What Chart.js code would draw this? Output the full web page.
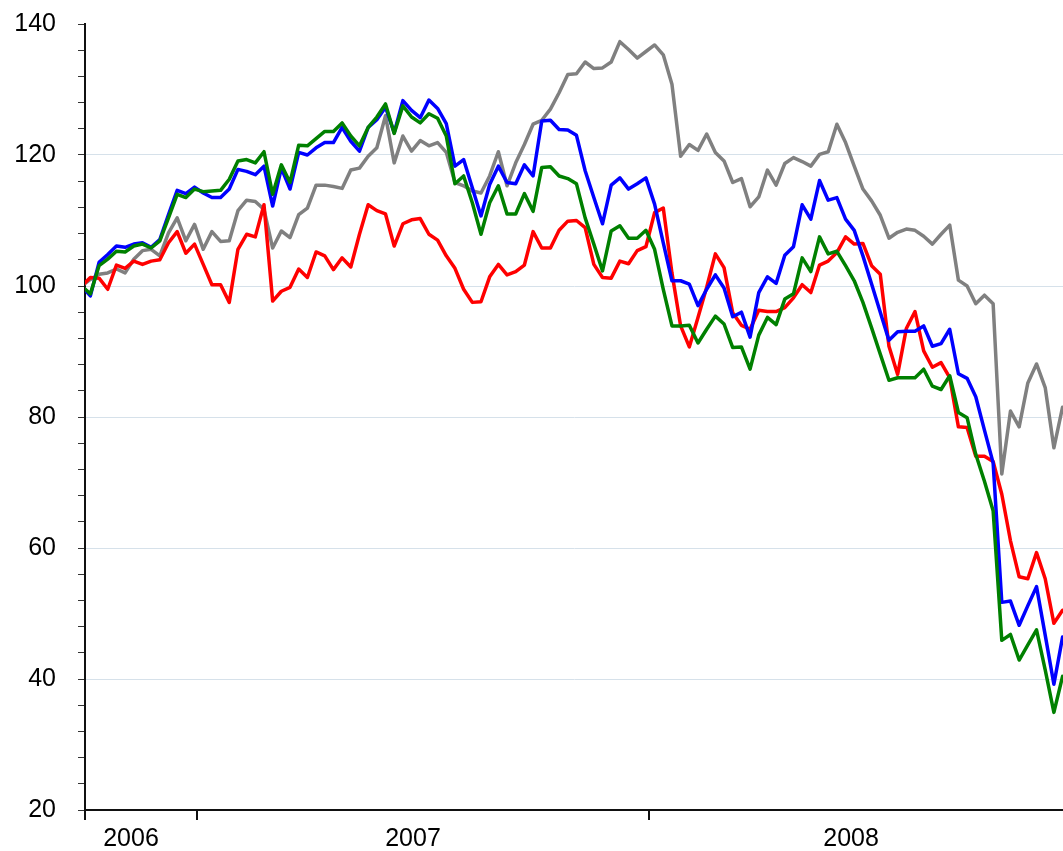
<!DOCTYPE html>
<html>
<head>
<meta charset="utf-8">
<script src="https://cdn.jsdelivr.net/npm/chart.js@4.4.1/dist/chart.umd.min.js"></script>
<style>
  html, body { margin: 0; padding: 0; background: #fff; }
  #wrap { width: 1063px; height: 851px; }
</style>
</head>
<body>
<div id="wrap"><canvas id="lineChart"></canvas></div>
<script>
// weekly values, every series indexed to 100 at the first week
const redValues = [
  100.0, 101.3, 101.2, 99.5, 103.2, 102.7, 103.8, 103.3, 103.8, 104.0,
  106.6, 108.3, 105.0, 106.4, 103.3, 100.2, 100.2, 97.5, 105.6, 107.9,
  107.5, 112.4, 97.7, 99.2, 99.8, 102.6, 101.3, 105.2, 104.6, 102.5,
  104.3, 102.9, 107.9, 112.4, 111.5, 111.0, 106.1, 109.5, 110.1, 110.3,
  107.9, 107.0, 104.6, 102.7, 99.5, 97.5, 97.6, 101.4, 103.3, 101.7,
  102.2, 103.2, 108.3, 105.8, 105.8, 108.5, 109.9, 110.0, 108.9, 103.3,
  101.3, 101.2, 103.8, 103.4, 105.4, 106.0, 111.2, 111.9, 102.0, 93.9,
  90.7, 95.2, 99.8, 104.9, 102.8, 95.9, 94.0, 93.4, 96.3, 96.1,
  96.1, 96.7, 98.2, 100.2, 99.0, 103.2, 103.8, 105.1, 107.5, 106.4,
  106.5, 103.1, 101.8, 90.8, 86.5, 93.5, 96.1, 90.1, 87.6, 88.3,
  86.0, 78.5, 78.4, 74.0, 74.0, 73.2, 68.2, 61.1, 55.6, 55.3,
  59.3, 55.3, 48.5, 50.5
];
const blueValues = [
  100.0, 98.5, 103.6, 104.8, 106.1, 105.9, 106.4, 106.6, 105.9, 107.1,
  110.9, 114.6, 114.1, 115.1, 114.2, 113.5, 113.5, 114.8, 117.8, 117.5,
  117.0, 118.3, 112.2, 118.0, 114.8, 120.4, 120.0, 121.1, 121.9, 121.9,
  124.2, 122.1, 120.6, 124.2, 125.4, 127.3, 123.4, 128.3, 126.8, 125.7,
  128.4, 127.1, 124.8, 118.3, 119.3, 115.0, 110.7, 115.5, 118.3, 115.8,
  115.6, 118.5, 116.8, 125.2, 125.3, 123.9, 123.8, 123.0, 117.6, 113.5,
  109.5, 115.4, 116.5, 114.8, 115.6, 116.5, 112.5, 106.6, 100.8, 100.8,
  100.3, 97.0, 99.5, 101.7, 99.7, 95.3, 96.0, 92.2, 99.0, 101.4,
  100.4, 104.7, 106.0, 112.4, 110.2, 116.1, 113.1, 113.5, 110.2, 108.5,
  104.6, 100.3, 96.0, 91.7, 93.0, 93.1, 93.1, 93.9, 90.8, 91.2,
  93.4, 86.6, 85.9, 83.1, 78.0, 73.0, 51.7, 51.9, 48.2, 51.2,
  54.1, 46.7, 39.2, 46.4
];
const greenValues = [
  100.0, 98.8, 103.1, 104.1, 105.3, 105.2, 106.1, 106.4, 105.8, 106.9,
  110.4, 114.0, 113.5, 114.8, 114.4, 114.5, 114.6, 116.3, 119.1, 119.3,
  118.8, 120.5, 114.0, 118.5, 115.8, 121.5, 121.4, 122.5, 123.6, 123.6,
  124.9, 122.9, 121.4, 124.2, 125.8, 127.8, 123.3, 127.5, 125.8, 124.9,
  126.3, 125.6, 122.9, 115.6, 116.8, 112.7, 107.9, 112.7, 115.3, 111.0,
  111.0, 114.1, 111.4, 118.1, 118.2, 116.8, 116.4, 115.6, 110.4, 106.4,
  102.3, 108.4, 109.2, 107.3, 107.3, 108.5, 105.6, 99.5, 93.9, 93.9,
  94.0, 91.3, 93.4, 95.4, 94.2, 90.6, 90.7, 87.3, 92.5, 95.2,
  94.1, 98.0, 98.8, 104.3, 102.2, 107.5, 104.9, 105.3, 103.1, 100.8,
  97.5, 93.6, 89.6, 85.6, 86.0, 86.0, 86.0, 87.3, 84.7, 84.2,
  86.3, 80.7, 79.9, 74.3, 70.2, 65.7, 45.9, 46.8, 42.9, 45.2,
  47.5, 41.4, 34.9, 40.4
];
const grayValues = [
  100.0, 101.0, 101.8, 102.0, 102.6, 102.0, 104.1, 105.4, 105.6, 104.6,
  108.1, 110.4, 106.9, 109.4, 105.6, 108.3, 106.8, 106.9, 111.5, 113.1,
  112.9, 111.7, 105.8, 108.4, 107.4, 110.9, 111.9, 115.4, 115.4, 115.2,
  114.9, 117.7, 118.0, 119.8, 121.1, 126.0, 118.8, 122.9, 120.6, 122.2,
  121.4, 121.9, 120.4, 115.8, 115.3, 114.5, 114.2, 116.8, 120.5, 115.3,
  118.8, 121.6, 124.7, 125.3, 127.0, 129.5, 132.3, 132.4, 134.2, 133.2,
  133.3, 134.2, 137.3, 136.1, 134.8, 135.8, 136.8, 135.3, 130.8, 119.8,
  121.6, 120.7, 123.2, 120.4, 119.1, 115.8, 116.4, 112.1, 113.6, 117.7,
  115.4, 118.7, 119.6, 119.0, 118.3, 120.1, 120.5, 124.7, 121.9, 118.3,
  114.8, 113.0, 110.8, 107.3, 108.2, 108.7, 108.5, 107.6, 106.4, 107.9,
  109.3, 100.9, 100.0, 97.3, 98.6, 97.3, 71.3, 80.9, 78.5, 85.2,
  88.1, 84.5, 75.3, 81.5
];

// x axis is in weeks counted from the first value
const yearLabels = ['2006', '2007', '2008'];
const yearLabelWeeks = [5.68, 38.17, 88.63];
const yearTickWeeks = [0.38, 13.32, 65.39];
const weekMin = 0.38;
const weekMax = 113.05;

const toPoints = (arr) => arr.map((v, i) => ({ x: i, y: v }));

document.addEventListener("DOMContentLoaded", () => {
    const canvas = document.getElementById("lineChart");
    if (!canvas) return;
    const ctx = canvas.getContext("2d");

    Chart.defaults.font.family = "'Liberation Sans', Arial, sans-serif";
    Chart.defaults.color = '#000';

    const line = (data, color) => ({
        data: toPoints(data),
        borderColor: color,
        borderWidth: 3.5,
        borderJoinStyle: 'round',
        borderCapStyle: 'round',
        pointRadius: 0,
        tension: 0,
        fill: false
    });

    new Chart(ctx, {
        type: 'line',
        data: {
            datasets: [
                line(greenValues, '#008000'),
                line(blueValues, '#0000ff'),
                line(redValues, '#ff0000'),
                line(grayValues, '#808080')
            ]
        },
        options: {
            responsive: true,
            maintainAspectRatio: false,
            animation: false,
            layout: { autoPadding: false, padding: { top: 24, right: 0, bottom: 0, left: 0 } },
            plugins: {
                legend: { display: false },
                tooltip: { enabled: false }
            },
            scales: {
                x: {
                    type: 'linear',
                    min: weekMin,
                    max: weekMax,
                    afterBuildTicks: (scale) => {
                        const t = yearTickWeeks.map(v => ({ value: v }))
                            .concat(yearLabelWeeks.map(v => ({ value: v })));
                        t.sort((a, b) => a.value - b.value);
                        scale.ticks = t;
                    },
                    afterFit: (scale) => {
                        scale.height = 41;
                        scale.paddingLeft = 0;
                        scale.paddingRight = 0;
                    },
                    ticks: {
                        autoSkip: false,
                        maxRotation: 0,
                        padding: 4,
                        font: { size: 25 },
                        callback: (value) => {
                            const k = yearLabelWeeks.indexOf(value);
                            return k >= 0 ? yearLabels[k] : '';
                        }
                    },
                    grid: {
                        drawOnChartArea: false,
                        tickLength: 10,
                        lineWidth: 2,
                        color: (c) => (c.tick && yearLabelWeeks.indexOf(c.tick.value) >= 0) ? 'rgba(0,0,0,0)' : '#111'
                    },
                    border: { display: true, color: '#111', width: 2 }
                },
                y: {
                    min: 20,
                    max: 140,
                    afterFit: (scale) => {
                        scale.width = 85;
                        scale.paddingTop = 0;
                        scale.paddingBottom = 0;
                    },
                    ticks: {
                        stepSize: 4,
                        autoSkip: false,
                        padding: 22,
                        font: { size: 25 },
                        callback: (value) => value % 20 === 0 ? String(value) : ''
                    },
                    grid: {
                        tickLength: 7,
                        lineWidth: 1,
                        color: (c) => {
                            const v = c.tick ? c.tick.value : 0;
                            return (v % 20 === 0 && v > 20 && v < 140) ? '#d6e1ea' : 'rgba(0,0,0,0)';
                        },
                        tickColor: '#333'
                    },
                    border: { display: true, color: '#111', width: 2 }
                }
            }
        }
    });
});
</script>
</body>
</html>
